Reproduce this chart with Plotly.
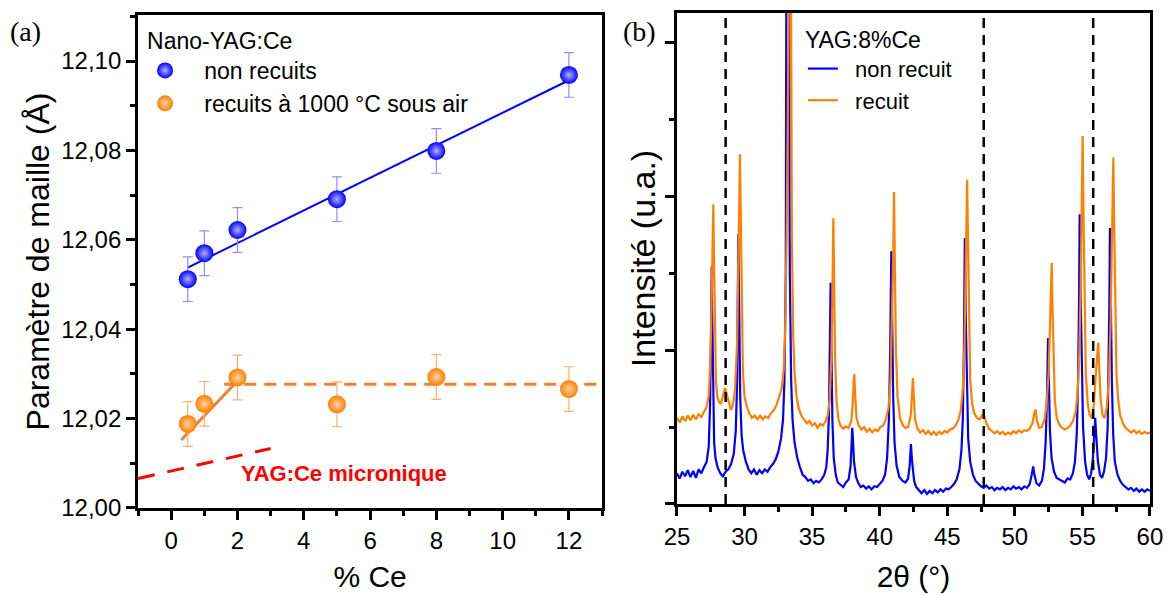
import plotly.graph_objects as go

# ---------------- (a) lattice parameter data ----------------
ce_pct = [0.5, 1, 2, 5, 8, 12]
a_non_recuits = [12.0512, 12.0570, 12.0622, 12.0691, 12.0799, 12.0969]
a_recuits = [12.0188, 12.0233, 12.0292, 12.0232, 12.0293, 12.0266]
a_err = [0.005, 0.005, 0.005, 0.005, 0.005, 0.005]

fit_blue_x = [0.5, 12]
fit_blue_y = [12.0538, 12.0957]
fit_orange_x = [0.3, 2.15]
fit_orange_y = [12.0152, 12.0296]
plateau_orange_x = [1.6, 13]
plateau_orange_y = [12.0277, 12.0277]
micro_x = [-1, 3]
micro_y = [12.0066, 12.0133]

# ---------------- (b) XRD patterns (2theta, intensity a.u.) ----------------
xrd_non_recuit = [
    (25.0, 0.40), (25.2, 0.33), (25.4, 0.42), (25.6, 0.36), (25.8, 0.44), (26.0, 0.35), (26.2, 0.43),
    (26.4, 0.34), (26.6, 0.45), (26.8, 0.40), (27.0, 0.48), (27.2, 0.55), (27.35, 0.75), (27.45, 1.3),
    (27.52, 2.2), (27.57, 3.09), (27.62, 2.3), (27.68, 1.2), (27.75, 0.8), (27.85, 0.6), (28.0, 0.48),
    (28.2, 0.40), (28.4, 0.36), (28.6, 0.42), (28.8, 0.45), (29.0, 0.52), (29.2, 0.65), (29.35, 0.95),
    (29.45, 1.6), (29.54, 3.51), (29.6, 2.4), (29.68, 1.4), (29.78, 0.9), (29.9, 0.7), (30.1, 0.55),
    (30.3, 0.45), (30.5, 0.40), (30.7, 0.45), (30.9, 0.38), (31.1, 0.44), (31.3, 0.40), (31.5, 0.45),
    (31.7, 0.42), (31.9, 0.48), (32.1, 0.52), (32.3, 0.58), (32.5, 0.68), (32.7, 0.85), (32.85, 1.1),
    (32.95, 1.6), (33.05, 3.0), (33.12, 9.0), (33.25, 9.0), (33.35, 3.0), (33.45, 1.6), (33.55, 1.1),
    (33.7, 0.8), (33.9, 0.6), (34.1, 0.48), (34.3, 0.38), (34.5, 0.35), (34.7, 0.30), (34.9, 0.32),
    (35.1, 0.27), (35.3, 0.30), (35.5, 0.28), (35.7, 0.32), (35.9, 0.38), (36.05, 0.48), (36.15, 0.7),
    (36.25, 1.2), (36.32, 2.0), (36.37, 2.88), (36.42, 2.1), (36.5, 1.1), (36.6, 0.6), (36.75, 0.38),
    (36.9, 0.28), (37.1, 0.25), (37.3, 0.22), (37.5, 0.28), (37.7, 0.32), (37.85, 0.5), (37.92, 0.8),
    (37.97, 0.99), (38.02, 0.85), (38.1, 0.55), (38.25, 0.35), (38.4, 0.28), (38.6, 0.22), (38.8, 0.24),
    (39.0, 0.20), (39.2, 0.23), (39.4, 0.19), (39.6, 0.23), (39.8, 0.22), (40.0, 0.26), (40.2, 0.30),
    (40.4, 0.38), (40.55, 0.6), (40.68, 1.1), (40.78, 2.0), (40.86, 3.29), (40.92, 2.3), (41.0, 1.4),
    (41.1, 0.8), (41.25, 0.5), (41.45, 0.35), (41.7, 0.30), (41.9, 0.28), (42.1, 0.33), (42.22, 0.5),
    (42.31, 0.78), (42.4, 0.55), (42.55, 0.30), (42.7, 0.22), (42.9, 0.18), (43.1, 0.14), (43.3, 0.18),
    (43.5, 0.13), (43.7, 0.17), (43.9, 0.14), (44.1, 0.18), (44.3, 0.15), (44.5, 0.19), (44.7, 0.16),
    (44.9, 0.20), (45.1, 0.19), (45.3, 0.22), (45.5, 0.26), (45.7, 0.32), (45.9, 0.45), (46.05, 0.7),
    (46.15, 1.1), (46.23, 2.0), (46.3, 3.46), (46.36, 2.5), (46.45, 1.4), (46.55, 0.85), (46.7, 0.55),
    (46.9, 0.38), (47.1, 0.30), (47.3, 0.26), (47.5, 0.23), (47.7, 0.21), (47.9, 0.24), (48.1, 0.20),
    (48.3, 0.22), (48.5, 0.18), (48.7, 0.21), (48.9, 0.19), (49.1, 0.22), (49.3, 0.18), (49.5, 0.21),
    (49.7, 0.19), (49.9, 0.23), (50.1, 0.20), (50.3, 0.22), (50.5, 0.19), (50.7, 0.23), (50.9, 0.21),
    (51.1, 0.26), (51.25, 0.38), (51.36, 0.49), (51.45, 0.38), (51.6, 0.27), (51.8, 0.24), (52.0, 0.30),
    (52.15, 0.45), (52.28, 0.8), (52.38, 1.4), (52.46, 2.16), (52.52, 1.6), (52.6, 0.95), (52.72, 0.6),
    (52.9, 0.42), (53.1, 0.34), (53.3, 0.32), (53.5, 0.30), (53.7, 0.28), (53.9, 0.33), (54.1, 0.32),
    (54.3, 0.40), (54.45, 0.55), (54.58, 0.9), (54.68, 1.6), (54.75, 2.6), (54.8, 3.77), (54.86, 2.8),
    (54.95, 1.6), (55.05, 1.0), (55.2, 0.55), (55.35, 0.38), (55.5, 0.32), (55.65, 0.40), (55.78, 0.6),
    (55.88, 0.9), (55.95, 1.12), (56.02, 0.9), (56.15, 0.55), (56.3, 0.38), (56.45, 0.34), (56.6, 0.42),
    (56.75, 0.6), (56.87, 1.0), (56.95, 1.8), (57.0, 2.7), (57.04, 3.59), (57.1, 2.7), (57.18, 1.6),
    (57.28, 0.9), (57.4, 0.55), (57.6, 0.38), (57.8, 0.30), (58.0, 0.25), (58.2, 0.22), (58.4, 0.19),
    (58.6, 0.21), (58.8, 0.17), (59.0, 0.20), (59.2, 0.16), (59.4, 0.19), (59.6, 0.16), (59.8, 0.19),
    (60.0, 0.17),
]
xrd_recuit = [
    (25.0, 1.12), (25.2, 1.06), (25.4, 1.14), (25.6, 1.08), (25.8, 1.15), (26.0, 1.09), (26.2, 1.16),
    (26.4, 1.10), (26.6, 1.17), (26.8, 1.13), (27.0, 1.20), (27.2, 1.26), (27.35, 1.42), (27.48, 1.9),
    (27.58, 2.8), (27.65, 3.5), (27.69, 3.90), (27.74, 3.2), (27.8, 2.1), (27.88, 1.6), (27.98, 1.40),
    (28.1, 1.33), (28.25, 1.30), (28.4, 1.40), (28.55, 1.51), (28.7, 1.42), (28.85, 1.30), (29.0, 1.22),
    (29.15, 1.30), (29.3, 1.5), (29.45, 2.1), (29.55, 3.0), (29.62, 4.0), (29.66, 4.55), (29.71, 3.8),
    (29.78, 2.5), (29.88, 1.7), (30.0, 1.40), (30.15, 1.28), (30.35, 1.18), (30.55, 1.12), (30.75, 1.15),
    (30.95, 1.10), (31.15, 1.15), (31.35, 1.10), (31.55, 1.14), (31.75, 1.12), (31.95, 1.18), (32.15, 1.22),
    (32.35, 1.28), (32.55, 1.38), (32.75, 1.5), (32.9, 1.75), (33.0, 2.2), (33.12, 3.5), (33.25, 9.0),
    (33.4, 9.0), (33.5, 3.5), (33.6, 2.2), (33.7, 1.7), (33.85, 1.40), (34.0, 1.25), (34.2, 1.15),
    (34.4, 1.10), (34.6, 1.05), (34.8, 1.08), (35.0, 1.02), (35.2, 1.05), (35.4, 0.99), (35.6, 1.04),
    (35.8, 1.02), (36.0, 1.08), (36.15, 1.15), (36.3, 1.35), (36.42, 1.9), (36.5, 2.7), (36.57, 3.72),
    (36.62, 3.0), (36.7, 1.9), (36.8, 1.35), (36.95, 1.10), (37.1, 1.02), (37.3, 0.98), (37.5, 1.01),
    (37.7, 0.99), (37.9, 1.08), (38.0, 1.3), (38.08, 1.6), (38.12, 1.69), (38.18, 1.45), (38.28, 1.12),
    (38.45, 1.02), (38.65, 0.97), (38.85, 1.00), (39.05, 0.94), (39.25, 0.98), (39.45, 0.93), (39.65, 0.97),
    (39.85, 0.95), (40.05, 1.00), (40.25, 1.02), (40.45, 1.10), (40.65, 1.25), (40.8, 1.6), (40.92, 2.4),
    (41.0, 3.2), (41.06, 4.06), (41.12, 3.2), (41.2, 2.0), (41.32, 1.4), (41.5, 1.12), (41.7, 1.03),
    (41.9, 0.99), (42.1, 1.00), (42.3, 1.15), (42.4, 1.45), (42.46, 1.64), (42.52, 1.4), (42.62, 1.10),
    (42.8, 0.98), (43.0, 0.93), (43.2, 0.96), (43.4, 0.91), (43.6, 0.95), (43.8, 0.90), (44.0, 0.94),
    (44.2, 0.90), (44.4, 0.94), (44.6, 0.91), (44.8, 0.95), (45.0, 0.93), (45.2, 0.97), (45.4, 0.98),
    (45.6, 1.02), (45.8, 1.08), (46.0, 1.22), (46.15, 1.5), (46.28, 2.1), (46.38, 3.0), (46.43, 3.7),
    (46.47, 4.22), (46.53, 3.5), (46.6, 2.4), (46.7, 1.6), (46.85, 1.30), (47.0, 1.18), (47.2, 1.12),
    (47.4, 1.10), (47.6, 1.16), (47.75, 1.14), (47.9, 1.05), (48.1, 0.98), (48.3, 0.95), (48.5, 0.92),
    (48.7, 0.95), (48.9, 0.91), (49.1, 0.94), (49.3, 0.90), (49.5, 0.93), (49.7, 0.91), (49.9, 0.95),
    (50.1, 0.92), (50.3, 0.96), (50.5, 0.93), (50.7, 0.96), (50.9, 0.95), (51.1, 0.98), (51.3, 1.05),
    (51.45, 1.18), (51.53, 1.23), (51.62, 1.10), (51.8, 0.99), (52.0, 1.00), (52.2, 1.10), (52.35, 1.3),
    (52.5, 1.7), (52.6, 2.3), (52.68, 2.9), (52.73, 3.14), (52.78, 2.6), (52.86, 1.8), (52.96, 1.35),
    (53.1, 1.12), (53.3, 1.03), (53.5, 0.99), (53.7, 0.97), (53.9, 0.99), (54.1, 1.02), (54.3, 1.08),
    (54.5, 1.2), (54.65, 1.45), (54.78, 2.0), (54.88, 2.9), (54.96, 4.0), (55.02, 4.79), (55.08, 3.8),
    (55.16, 2.5), (55.25, 1.7), (55.4, 1.30), (55.55, 1.15), (55.7, 1.12), (55.85, 1.3), (55.98, 1.65),
    (56.08, 1.95), (56.17, 2.10), (56.24, 1.8), (56.35, 1.35), (56.5, 1.15), (56.65, 1.12), (56.8, 1.25),
    (56.95, 1.6), (57.08, 2.3), (57.18, 3.3), (57.24, 4.0), (57.29, 4.51), (57.34, 3.8), (57.42, 2.6),
    (57.52, 1.7), (57.65, 1.35), (57.8, 1.15), (58.0, 1.05), (58.2, 0.99), (58.4, 0.96), (58.6, 0.93),
    (58.8, 0.96), (59.0, 0.92), (59.2, 0.95), (59.4, 0.91), (59.6, 0.94), (59.8, 0.92), (60.0, 0.93),
]
ref_lines_2theta = [28.6, 47.7, 55.8]

BLUE = "#0000FF"
ORANGE = "#FF8000"
FONT = "Liberation Sans, Arial, sans-serif"
NB = "\u00a0"

fig = go.Figure()

# --- panel (a) ---
fig.add_trace(go.Scatter(
    x=fit_blue_x, y=fit_blue_y, mode="lines", line=dict(color=BLUE, width=2),
    showlegend=False, xaxis="x", yaxis="y"))
fig.add_trace(go.Scatter(
    x=fit_orange_x, y=fit_orange_y, mode="lines", line=dict(color="#EE8030", width=3),
    showlegend=False, xaxis="x", yaxis="y"))
fig.add_trace(go.Scatter(
    x=plateau_orange_x, y=plateau_orange_y, mode="lines",
    line=dict(color="#EE8030", width=3, dash="12px,8px"),
    showlegend=False, xaxis="x", yaxis="y"))
fig.add_trace(go.Scatter(
    x=micro_x, y=micro_y, mode="lines", line=dict(color="#FF0000", width=3, dash="17px,13px"),
    showlegend=False, xaxis="x", yaxis="y"))
fig.add_trace(go.Scatter(
    x=ce_pct, y=a_non_recuits, mode="markers", name=NB * 3 + "non recuits",
    marker=dict(size=18, color=BLUE, gradient=dict(type="radial", color="#B0B0FF"), line=dict(width=0)),
    error_y=dict(type="data", array=a_err, color="#8C8CFF", thickness=1.2, width=5),
    xaxis="x", yaxis="y", legend="legend"))
fig.add_trace(go.Scatter(
    x=ce_pct, y=a_recuits, mode="markers", name=NB * 3 + "recuits à 1000 °C sous air",
    marker=dict(size=18, color=ORANGE, gradient=dict(type="radial", color="#FFD2A8"), line=dict(width=0)),
    error_y=dict(type="data", array=a_err, color="#FFB070", thickness=1.2, width=5),
    xaxis="x", yaxis="y", legend="legend"))

# --- panel (b) ---
fig.add_trace(go.Scatter(
    x=[p[0] for p in xrd_non_recuit], y=[p[1] for p in xrd_non_recuit], mode="lines",
    name=NB * 2 + "non recuit", line=dict(color=BLUE, width=2.2),
    xaxis="x2", yaxis="y2", legend="legend2"))
fig.add_trace(go.Scatter(
    x=[p[0] for p in xrd_recuit], y=[p[1] for p in xrd_recuit], mode="lines",
    name=NB * 2 + "recuit", line=dict(color=ORANGE, width=2.2),
    xaxis="x2", yaxis="y2", legend="legend2"))

for xv in ref_lines_2theta:
    fig.add_shape(type="line", xref="x2", yref="y2 domain", x0=xv, x1=xv, y0=0, y1=1,
                  line=dict(color="black", width=2.5, dash="10px,7px"), layer="above")

axis_common = dict(showline=True, linewidth=3, linecolor="black", mirror=True,
                   ticks="outside", ticklen=9, tickwidth=2.5, tickcolor="black",
                   showgrid=False, zeroline=False, automargin=False,
                   tickfont=dict(family=FONT, size=24, color="black"))
minor_common = dict(ticks="outside", ticklen=5, tickwidth=2.5, tickcolor="black", showgrid=False)

fig.update_layout(
    width=1167, height=596,
    margin=dict(l=0, r=0, t=0, b=0, autoexpand=False),
    paper_bgcolor="white", plot_bgcolor="white",
    separators=", ",
    font=dict(family=FONT, color="black"),
    xaxis=dict(domain=[0.1183, 0.5159], range=[-1, 13], dtick=2, tick0=0,
               minor=dict(dtick=1, **minor_common),
               title=dict(text="% Ce", font=dict(size=30), standoff=14),
               anchor="y", **axis_common),
    yaxis=dict(domain=[0.1477, 0.9748], range=[12.0, 12.1103], dtick=0.02, tick0=12.0,
               tickformat=".2f", minor=dict(dtick=0.01, **minor_common),
               title=dict(text="Paramètre de maille (Å)", font=dict(size=32), standoff=2),
               anchor="x", **axis_common),
    xaxis2=dict(domain=[0.5801, 0.9854], range=[25, 60], dtick=5, tick0=25,
                minor=dict(dtick=2.5, **minor_common),
                title=dict(text="2θ (°)", font=dict(size=30), standoff=18),
                anchor="y2", **axis_common),
    yaxis2=dict(domain=[0.1544, 0.9782], range=[0, 6.39], dtick=2, tick0=0,
                showticklabels=False, minor=dict(dtick=1, **minor_common),
                title=dict(text="Intensité (u.a.)", font=dict(size=34), standoff=0),
                anchor="x2", **axis_common),
    legend=dict(x=0.1243, y=0.968, xanchor="left", yanchor="top",
                bgcolor="rgba(0,0,0,0)", borderwidth=0,
                title=dict(text="Nano-YAG:Ce", font=dict(size=23)),
                font=dict(size=23), tracegroupgap=0),
    legend2=dict(x=0.688, y=0.97, xanchor="left", yanchor="top",
                 bgcolor="rgba(0,0,0,0)", borderwidth=0,
                 title=dict(text="YAG:8%Ce", font=dict(size=23)),
                 font=dict(size=22), tracegroupgap=0),
    annotations=[
        dict(text="(a)", x=8 / 1167, y=1 - 14 / 596, xref="paper", yref="paper",
             xanchor="left", yanchor="top", showarrow=False,
             font=dict(family="Liberation Serif, Times New Roman, serif", size=28)),
        dict(text="(b)", x=621 / 1167, y=1 - 14 / 596, xref="paper", yref="paper",
             xanchor="left", yanchor="top", showarrow=False,
             font=dict(family="Liberation Serif, Times New Roman, serif", size=28)),
        dict(text="<b>YAG:Ce micronique</b>", x=5.2, y=12.0078, xref="x", yref="y",
             showarrow=False, font=dict(family=FONT, size=22, color="#FF0000")),
    ],
)

fig.write_html("out.html", config={"displayModeBar": False},
               post_script="document.body.style.margin='0px';")
